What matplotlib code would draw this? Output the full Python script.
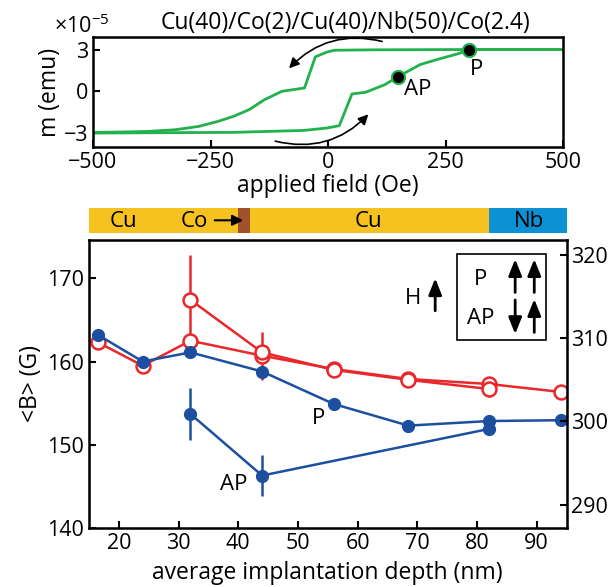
import numpy as np
import matplotlib.pyplot as plt

plt.rcParams['font.family'] = ['Open Sans', 'DejaVu Sans']
plt.rcParams['mathtext.default'] = 'regular'

# HYSTERESIS LOOP (field in Oe, moment in 1e-5 emu)
H_down = [500, 300, 100, 14, -3, -27, -50, -98, -135, -168, -201, -234, -275, -325, -383, -450, -500]
m_down = [3.0, 3.0, 2.98, 2.95, 2.81, 2.47, 0.24, 0.0, -0.6, -1.32, -1.8, -2.16, -2.52, -2.76, -2.88, -2.93, -2.95]
H_up = [-500, -400, -201, -52, -3, 24, 51, 80, 121, 148, 196, 237, 278, 301, 400, 500]
m_up = [-3.0, -2.98, -2.95, -2.81, -2.64, -2.47, -0.19, -0.07, 0.48, 1.03, 1.92, 2.33, 2.71, 3.0, 3.0, 3.0]
state_H = [148, 301]
state_m = [1.03, 3.0]

# LAYER STACK (nm)
layer_names = ['Cu', 'Co', 'Cu', 'Nb']
layer_start = [0, 40, 42, 82]
layer_thick = [40, 2, 40, 50]
layer_colors = ['#F6C21F', '#A0522D', '#F6C21F', '#0E90D5']

# MEAN FIELD VS DEPTH
depth = [16.5, 24, 32, 44, 56, 68.5, 82, 94]
B_blue_P = [163.2, 160.0, 161.1, 158.8, 154.9, 152.3, 152.85, 152.95]
err_blue_P = [0.3, 0.3, 0.6, 0.7, 0.3, 0.3, 0.3, 0.3]
depth_blue_AP = [32, 44, 82]
B_blue_AP = [153.7, 146.3, 151.9]
err_blue_AP = [3.1, 2.5, 0.6]
B_red_P = [162.3, 159.5, 162.5, 160.7, 159.1, 157.9, 157.3, 156.35]
err_red_P = [0.3, 0.3, 0.3, 2.9, 0.3, 0.3, 0.3, 0.3]
depth_red_AP = [32, 44, 56, 68.5, 82]
B_red_AP = [167.4, 161.1, 159.0, 157.8, 156.7]
err_red_AP = [5.4, 0.3, 0.3, 0.3, 1.0]

green = '#22B14C'
red = '#E8282B'
blue = '#1C4FA0'
fs_tick = 15.5
fs_lab = 16.5
fs_ann = 16
spin_arrow = dict(arrowstyle='-|>,head_length=0.55,head_width=0.22', color='black',
                  lw=2.0, mutation_scale=18, shrinkA=0, shrinkB=0)

fig = plt.figure(figsize=(6.1, 5.87), dpi=100)

# Top: hysteresis
ax1 = fig.add_axes([93/610, 1 - 147/587, 470/610, 110/587])
ax1.plot(H_down, m_down, color=green, lw=2)
ax1.plot(H_up, m_up, color=green, lw=2)
ax1.plot(state_H, state_m, 'o', color='black', mec=green, mew=1.5, ms=9.5, zorder=3)
ax1.text(316, 1.56, 'P', fontsize=fs_ann, ha='center', va='center')
ax1.text(190, 0.1, 'AP', fontsize=fs_ann, ha='center', va='center')
ax1.annotate('', xy=(-87, 1.51), xytext=(121, 3.53),
             arrowprops=dict(arrowstyle='-|>', color='black', lw=1.2,
                             connectionstyle='arc3,rad=0.3', mutation_scale=15),
             annotation_clip=False)
ax1.annotate('', xy=(90, -1.51), xytext=(-118, -3.53),
             arrowprops=dict(arrowstyle='-|>', color='black', lw=1.2,
                             connectionstyle='arc3,rad=0.3', mutation_scale=15),
             annotation_clip=False)
ax1.set_xlim(-500, 500)
ax1.set_ylim(-4, 3.9)
ax1.set_xticks([-500, -250, 0, 250, 500])
ax1.set_yticks([-3, 0, 3])
ax1.set_xlabel('applied field (Oe)', fontsize=fs_lab, labelpad=1)
ax1.set_ylabel('m (emu)', fontsize=fs_lab, labelpad=1)
ax1.tick_params(direction='in', labelsize=fs_tick, width=1.5, length=5)
for s in ax1.spines.values():
    s.set_linewidth(1.8)
fig.text(54/610, 1 - 33/587, r'$\times10^{-5}$', fontsize=fs_tick, va='baseline')
fig.text(345/610, 1 - 23/587, 'Cu(40)/Co(2)/Cu(40)/Nb(50)/Co(2.4)', fontsize=fs_lab,
         ha='center', va='center')

# Layer bar
axL = fig.add_axes([89/610, 1 - 232.6/587, 477.5/610, 24.6/587])
axL.barh(0.5, layer_thick, left=layer_start, height=1, color=layer_colors)
axL.set_xlim(15, 95)
axL.set_ylim(0, 1)
axL.axis('off')
axL.text(20.7, 0.45, 'Cu', fontsize=fs_ann, ha='center', va='center')
axL.text(32.6, 0.45, 'Co', fontsize=fs_ann, ha='center', va='center')
axL.annotate('', xy=(41.3, 0.5), xytext=(35.6, 0.5),
             arrowprops=dict(arrowstyle='-|>', color='black', lw=1.5, mutation_scale=16))
axL.text(61.8, 0.45, 'Cu', fontsize=fs_ann, ha='center', va='center')
axL.text(88.7, 0.45, 'Nb', fontsize=fs_ann, ha='center', va='center')

# Bottom: <B> vs depth
ax2 = fig.add_axes([89/610, 59/587, 477.5/610, 288/587])
ax2.errorbar(depth, B_red_P, yerr=err_red_P, color=red, lw=1.8, marker='o', ms=10,
             mfc='white', mec=red, mew=1.8, elinewidth=1.8, capsize=0)
ax2.errorbar(depth_red_AP, B_red_AP, yerr=err_red_AP, color=red, lw=1.8, marker='o', ms=10,
             mfc='white', mec=red, mew=1.8, elinewidth=1.8, capsize=0)
ax2.errorbar(depth, B_blue_P, yerr=err_blue_P, color=blue, lw=1.8, marker='o', ms=8.5,
             mfc=blue, mec=blue, elinewidth=1.8, capsize=0)
ax2.errorbar(depth_blue_AP, B_blue_AP, yerr=err_blue_AP, color=blue, lw=1.8, marker='o', ms=8.5,
             mfc=blue, mec=blue, elinewidth=1.8, capsize=0)
ax2.text(53.5, 153.1, 'P', fontsize=fs_ann, ha='center', va='center')
ax2.text(39.3, 145.2, 'AP', fontsize=fs_ann, ha='center', va='center')
ax2.text(69.3, 167.6, 'H', fontsize=fs_ann, ha='center', va='center')
ax2.annotate('', xy=(73.0, 170.0), xytext=(73.0, 166.1), arrowprops=spin_arrow)
# legend box
ax2.add_patch(plt.Rectangle((76.6, 162.6), 15.0, 10.3, fill=False, lw=1.2, ec='black'))
ax2.text(80.6, 169.9, 'P', fontsize=fs_ann, ha='center', va='center')
ax2.text(80.6, 165.2, 'AP', fontsize=fs_ann, ha='center', va='center')
for x0, y0, y1 in [(86.4, 168.3, 172.3), (89.6, 168.3, 172.3),
                   (86.4, 167.4, 163.3), (89.6, 163.5, 167.5)]:
    ax2.annotate('', xy=(x0, y1), xytext=(x0, y0), arrowprops=spin_arrow)
ax2.set_xlim(15, 95)
ax2.set_ylim(140, 174.6)
ax2.set_xticks(np.arange(20, 91, 10))
ax2.set_yticks([140, 150, 160, 170])
ax2.set_xlabel('average implantation depth (nm)', fontsize=fs_lab, labelpad=5)
ax2.set_ylabel('<B> (G)', fontsize=fs_lab, labelpad=3)
ax2.tick_params(direction='in', labelsize=fs_tick, width=1.5, length=5)
for s in ax2.spines.values():
    s.set_linewidth(1.8)
ax3 = ax2.twinx()
ax3.set_ylim(140 + 147.2, 174.6 + 147.2)
ax3.set_yticks([290, 300, 310, 320])
ax3.tick_params(direction='in', labelsize=fs_tick, width=1.5, length=5)

fig.savefig('out.png', dpi=100)
